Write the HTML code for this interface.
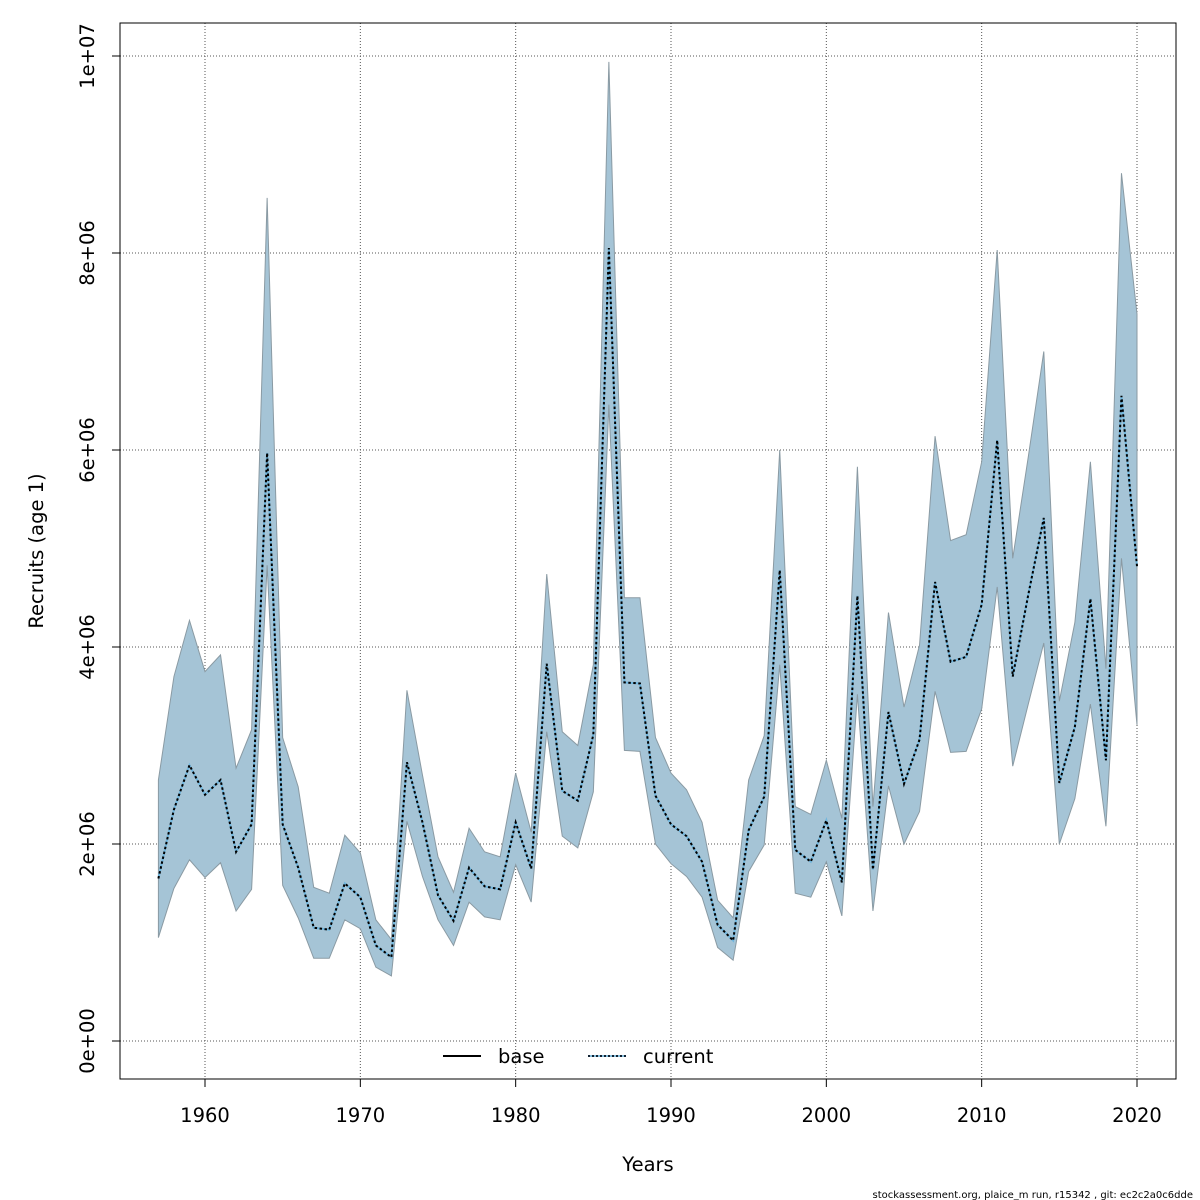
<!DOCTYPE html>
<html><head><meta charset="utf-8"><style>
html,body{margin:0;padding:0;background:#fff;}
svg{display:block;font-family:"DejaVu Sans","Liberation Sans",sans-serif;}
</style></head><body>
<svg id="chart" width="1200" height="1200" viewBox="0 0 1200 1200" xmlns="http://www.w3.org/2000/svg">
<g id="grid"></g>
<g id="band"></g>
<g id="lines"></g>
<rect x="120" y="23" width="1056" height="1056" fill="none" stroke="#000" stroke-width="1"/>
<g id="axes"></g>
<text x="648" y="1171" font-size="19.5" text-anchor="middle">Years</text>
<text transform="translate(43,551) rotate(-90)" font-size="19.5" text-anchor="middle">Recruits (age 1)</text>
<g>
<line x1="443" y1="1056" x2="481" y2="1056" stroke="#000" stroke-width="2"/>
<text x="498" y="1063" font-size="19.5">base</text>
<line x1="588" y1="1056" x2="626" y2="1056" stroke="#87bfdc" stroke-width="2"/>
<line x1="588" y1="1056" x2="626" y2="1056" stroke="#123" stroke-width="2" stroke-dasharray="2,2"/>
<text x="643" y="1063" font-size="19.5">current</text>
</g>
<text x="1193" y="1198" font-size="10" text-anchor="end">stockassessment.org, plaice_m  run, r15342 , git: ec2c2a0c6dde</text>
</svg>
<script>
const years = [1957,1958,1959,1960,1961,1962,1963,1964,1965,1966,1967,1968,1969,1970,1971,1972,1973,1974,1975,1976,1977,1978,1979,1980,1981,1982,1983,1984,1985,1986,1987,1988,1989,1990,1991,1992,1993,1994,1995,1996,1997,1998,1999,2000,2001,2002,2003,2004,2005,2006,2007,2008,2009,2010,2011,2012,2013,2014,2015,2016,2017,2018,2019,2020];
const estimate = [1.65,2.35,2.8,2.5,2.65,1.92,2.2,5.97,2.2,1.76,1.15,1.13,1.6,1.46,0.97,0.85,2.83,2.22,1.48,1.22,1.76,1.57,1.54,2.22,1.75,3.83,2.54,2.44,3.11,8.05,3.64,3.63,2.49,2.2,2.08,1.82,1.18,1.02,2.14,2.48,4.78,1.94,1.82,2.24,1.61,4.52,1.74,3.34,2.61,3.06,4.66,3.85,3.9,4.43,6.1,3.7,4.53,5.31,2.62,3.19,4.49,2.85,6.55,4.82];
const upper = [2.65,3.7,4.27,3.75,3.92,2.77,3.16,8.56,3.08,2.58,1.56,1.5,2.09,1.91,1.23,1.03,3.56,2.7,1.87,1.51,2.16,1.92,1.87,2.72,2.12,4.74,3.14,3.0,3.82,9.94,4.5,4.5,3.08,2.72,2.55,2.22,1.43,1.25,2.65,3.1,6.0,2.38,2.3,2.85,2.26,5.83,2.38,4.35,3.39,4.02,6.14,5.08,5.14,5.88,8.03,4.9,5.93,7.0,3.45,4.25,5.88,3.78,8.81,7.38];
const lower = [1.05,1.55,1.84,1.66,1.81,1.32,1.54,4.83,1.58,1.25,0.84,0.84,1.23,1.14,0.75,0.66,2.23,1.67,1.23,0.97,1.41,1.26,1.23,1.79,1.41,3.14,2.08,1.96,2.53,6.46,2.95,2.94,2.0,1.8,1.67,1.46,0.95,0.82,1.72,1.99,3.82,1.5,1.46,1.82,1.27,3.52,1.32,2.59,2.0,2.33,3.55,2.93,2.94,3.37,4.61,2.79,3.42,4.04,2.0,2.46,3.42,2.18,4.9,3.21];
const xTicks = [1960,1970,1980,1990,2000,2010,2020];
const yTicks = [0,2,4,6,8,10];
const yTickLabels = ["0e+00","2e+06","4e+06","6e+06","8e+06","1e+07"];

const NS = "http://www.w3.org/2000/svg";
function xs(v){ return 205 + (v - 1960) * (932/60); }
function ys(v){ return 1041 - v * 98.5; }
function mk(tag, attrs, parent){ const e=document.createElementNS(NS,tag); for(const k in attrs) e.setAttribute(k,attrs[k]); parent.appendChild(e); return e; }

const grid = document.getElementById('grid');
const axes = document.getElementById('axes');
xTicks.forEach((t,i)=>{
  const g = mk('line',{x1:xs(t),x2:xs(t),y1:23,y2:1079,stroke:'#555','stroke-width':1,'stroke-dasharray':'1,2'},grid);
  
  
  const tk = mk('line',{x1:xs(t),x2:xs(t),y1:1079,y2:1087,stroke:'#000','stroke-width':1},axes);
  
  
  const lb = mk('text',{x:xs(t),y:1122,'font-size':19.5,'text-anchor':'middle'},axes);
  lb.textContent = t;
  
  
});
yTicks.forEach((t,i)=>{
  const g = mk('line',{x1:120,x2:1176,y1:ys(t),y2:ys(t),stroke:'#555','stroke-width':1,'stroke-dasharray':'1,2'},grid);
  
  
  const tk = mk('line',{x1:112,x2:120,y1:ys(t),y2:ys(t),stroke:'#000','stroke-width':1},axes);
  
  
  const lb = mk('text',{transform:`translate(94,${ys(t)}) rotate(-90)`,'font-size':19.5,'text-anchor':'middle'},axes);
  lb.textContent = yTickLabels[i];
  
  
});

const band = document.getElementById('band');
let pts = years.map((y,i)=>xs(y)+','+ys(upper[i]));
for(let i=years.length-1;i>=0;i--) pts.push(xs(years[i])+','+ys(lower[i]));
const poly = mk('polygon',{points:pts.join(' '),fill:'#a5c4d6',stroke:'#8a9aa3','stroke-width':1},band);



const lines = document.getElementById('lines');
const lp = years.map((y,i)=>xs(y)+','+ys(estimate[i])).join(' ');
const bl = mk('polyline',{points:lp,fill:'none',stroke:'#6fb6de','stroke-width':2},lines);


const cl = mk('polyline',{points:lp,fill:'none',stroke:'#000','stroke-width':2,'stroke-dasharray':'2.5,2.5'},lines);


</script>
</body></html>
